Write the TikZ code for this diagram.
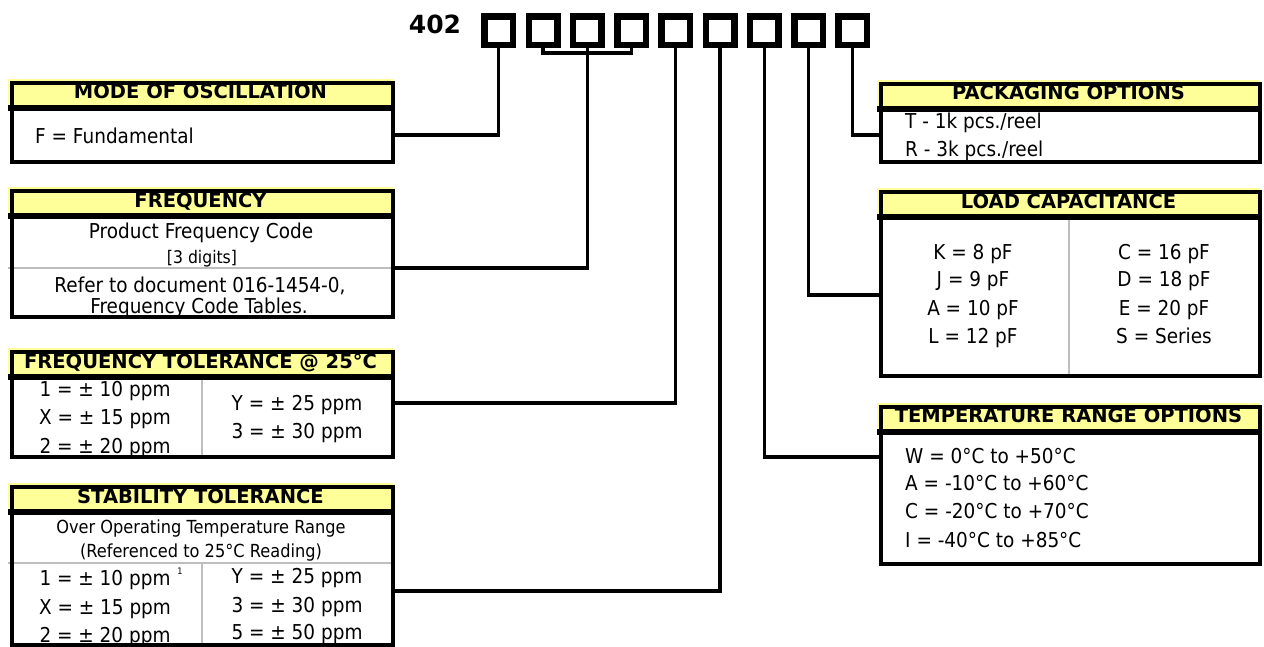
\documentclass[tikz,border=0pt]{standalone}
\usepackage{fontspec}
\setmainfont{DejaVu Sans}[FakeStretch=0.9]
\newfontfamily\hfont{DejaVu Sans}
\definecolor{hdryellow}{RGB}{255,255,153}
\definecolor{sepgray}{RGB}{190,190,190}
\begin{document}
\begin{tikzpicture}[x=1pt,y=-1pt,
  panel/.style={draw=black, line width=4pt, inner sep=0pt, anchor=north west},
  hdrfill/.style={fill=hdryellow},
  hsep/.style={line width=5.5pt},
  gsep/.style={draw=sepgray, line width=2pt},
  conn/.style={line width=3.3pt},
  digitbox/.style={draw, line width=6.5pt, minimum width=28.5pt, minimum height=28.5pt, inner sep=0pt, anchor=north west},
  htext/.style={font=\hfont\fontsize{19.5}{22}\selectfont\bfseries, anchor=base, inner sep=0pt},
  btext/.style={font=\fontsize{20.5}{24}\selectfont, anchor=base, inner sep=0pt},
  ltext/.style={btext, anchor=base west},
  stext/.style={font=\fontsize{18}{21}\selectfont, anchor=base, inner sep=0pt},
]
\useasboundingbox (0,0) rectangle (1264,646);
\fill[white] (0,0) rectangle (1264,646);

% ---- part number
\node[font=\hfont\fontsize{25}{28}\selectfont\bfseries, anchor=base, inner sep=0pt] (pn) at (435,33) {402};
\foreach \i in {1,...,9}{
  \node[digitbox] (b\i) at ({481.25+44.25*(\i-1)},13.25) {};
}

% ---- header fills
\fill[hdrfill] (8,79) rectangle (393,107.5);
\fill[hdrfill] (8,187) rectangle (393,215.5);
\fill[hdrfill] (8,348) rectangle (393,376.5);
\fill[hdrfill] (8,483) rectangle (393,511.5);
\fill[hdrfill] (877,80) rectangle (1260,108.5);
\fill[hdrfill] (877,188) rectangle (1260,216.5);
\fill[hdrfill] (877,403) rectangle (1260,431.5);

% ---- header texts
\node[htext] (modeh) at (200.5,98) {MODE OF OSCILLATION};
\node[htext] (freqh) at (200.5,207) {FREQUENCY};
\node[htext] (ftolh) at (200.5,368) {FREQUENCY TOLERANCE @ 25°C};
\node[htext] (stabh) at (200.5,503) {STABILITY TOLERANCE};
\node[htext] (packh) at (1068.5,99) {PACKAGING OPTIONS};
\node[htext] (loadh) at (1068.5,208) {LOAD CAPACITANCE};
\node[htext] (temph) at (1068.5,422) {TEMPERATURE RANGE OPTIONS};

% ---- body texts
\node[ltext] (mode1) at (35,143) {F = Fundamental};

\node[btext] (freq1) at (201,238) {Product Frequency Code};
\node[stext, font=\fontsize{17.4}{20}\selectfont] (freq2) at (202,263) {[3 digits]};
\node[btext] (freq3) at (200,292) {Refer to document 016-1454-0,};
\begin{scope}
\clip (8,270) rectangle (393,315);
\node[btext] (freq4) at (199,313) {Frequency Code Tables.};
\end{scope}

\begin{scope}
\clip (8,377) rectangle (393,455);
\node[btext] (ft1) at (105,396) {1 = ± 10 ppm};
\node[btext] (ft2) at (105,424) {X = ± 15 ppm};
\node[btext] (ft3) at (105,453) {2 = ± 20 ppm};
\end{scope}
\node[btext] (ft4) at (297,410) {Y = ± 25 ppm};
\node[btext] (ft5) at (297,438) {3 = ± 30 ppm};

\node[stext] (st0) at (201,533) {Over Operating Temperature Range};
\node[stext] (st00) at (201,557) {(Referenced to 25°C Reading)};
\begin{scope}
\clip (8,563) rectangle (393,643);
\node[btext] (st1) at (105,585) {1 = ± 10 ppm\rlap{\hspace{7pt}\raisebox{11pt}{\fontsize{9}{10}\selectfont 1}}};
\node[btext] (st2) at (105,614) {X = ± 15 ppm};
\node[btext] (st3) at (105,642) {2 = ± 20 ppm};
\node[btext] (st4) at (297,583) {Y = ± 25 ppm};
\node[btext] (st5) at (297,612) {3 = ± 30 ppm};
\node[btext] (st6) at (297,639) {5 = ± 50 ppm};
\end{scope}

\begin{scope}
\clip (877,111) rectangle (1260,160);
\node[ltext] (pk1) at (905,128) {T - 1k pcs./reel};
\node[ltext] (pk2) at (905,156) {R - 3k pcs./reel};
\end{scope}

\node[btext] (ld1) at (973,259) {K = 8 pF};
\node[btext] (ld2) at (973,286) {J = 9 pF};
\node[btext] (ld3) at (973,315) {A = 10 pF};
\node[btext] (ld4) at (973,343) {L = 12 pF};
\node[btext] (ld5) at (1164,259) {C = 16 pF};
\node[btext] (ld6) at (1164,286) {D = 18 pF};
\node[btext] (ld7) at (1164,315) {E = 20 pF};
\node[btext] (ld8) at (1164,343) {S = Series};

\node[ltext] (tp1) at (905,463) {W = 0°C to +50°C};
\node[ltext] (tp2) at (905,490) {A = -10°C to +60°C};
\node[ltext] (tp3) at (905,518) {C = -20°C to +70°C};
\node[ltext] (tp4) at (905,547) {I = -40°C to +85°C};

% ---- gray separators
\draw[gsep] (8,268) -- (393,268);
\draw[gsep] (8,563) -- (393,563);
\draw[gsep] (202,377) -- (202,457);
\draw[gsep] (202,563) -- (202,645);
\draw[gsep] (1069,217) -- (1069,376);

% ---- header separators
\draw[hsep] (8,108) -- (393,108);
\draw[hsep] (8,216) -- (393,216);
\draw[hsep] (8,377) -- (393,377);
\draw[hsep] (8,512) -- (393,512);
\draw[hsep] (877,109) -- (1260,109);
\draw[hsep] (877,217) -- (1260,217);
\draw[hsep] (877,432) -- (1260,432);

% ---- panels
\node[panel, minimum width=381pt, minimum height=79pt]  (mode) at (10,81) {};
\node[panel, minimum width=381pt, minimum height=126pt] (freq) at (10,189) {};
\node[panel, minimum width=381pt, minimum height=105pt] (ftol) at (10,350) {};
\node[panel, minimum width=381pt, minimum height=158pt] (stab) at (10,485) {};
\node[panel, minimum width=379pt, minimum height=78pt]  (pack) at (879,82) {};
\node[panel, minimum width=379pt, minimum height=184pt] (load) at (879,190) {};
\node[panel, minimum width=379pt, minimum height=157pt] (temp) at (879,405) {};

% ---- connectors
\draw[conn] (b1.south) |- (mode.east |- 0,135);
\draw[conn] (b2.south) |- (b4.south |- 0,53) -- (b4.south);
\draw[conn] (b3.south) |- (freq.east |- 0,268);
\draw[conn] (b5.south) |- (ftol.east |- 0,403);
\draw[conn] (b6.south) |- (stab.east |- 0,591);
\draw[conn] (b7.south) |- (temp.west |- 0,457);
\draw[conn] (b8.south) |- (load.west |- 0,295);
\draw[conn] (b9.south) |- (pack.west |- 0,135);
\end{tikzpicture}
\end{document}
